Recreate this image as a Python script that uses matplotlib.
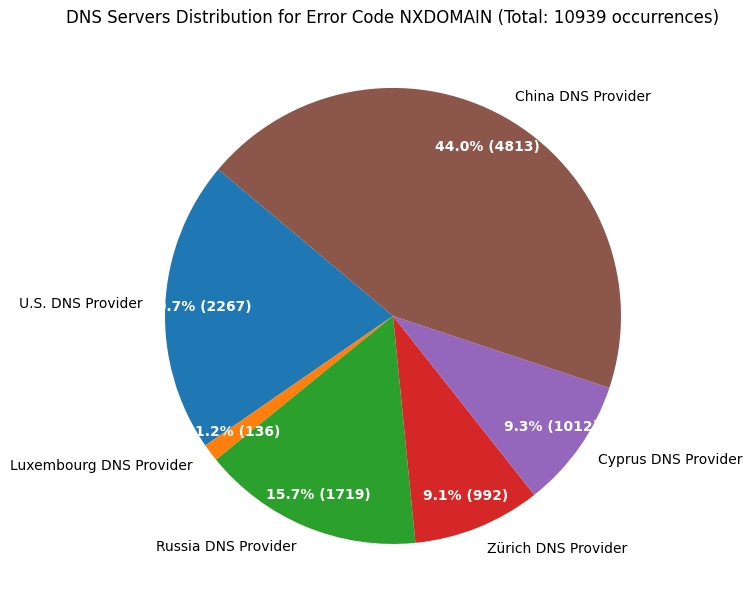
import matplotlib
matplotlib.use("Agg")
import matplotlib.pyplot as plt

# Data
providers = ["U.S. DNS Provider", "Luxembourg DNS Provider", "Russia DNS Provider",
             "Zürich DNS Provider", "Cyprus DNS Provider", "China DNS Provider"]
counts = [2267, 136, 1719, 992, 1012, 4813]
error_code = "NXDOMAIN"

total = sum(counts)


def fmt(pct):
    # percentage plus absolute count
    return "{:.1f}% ({:d})".format(pct, int(round(pct * total / 100.0)))


fig = plt.figure(figsize=(7.52, 6.11), dpi=100)
ax = fig.add_axes([0.1436, 0.0164, 0.758, 0.933])

wedges, texts, autotexts = ax.pie(counts, labels=providers, autopct=fmt,
                                  startangle=140, pctdistance=0.85,
                                  textprops={"fontsize": 10})
for t in autotexts:
    t.set_color("white")
    t.set_fontweight("bold")

ax.set_title("DNS Servers Distribution for Error Code {} (Total: {} occurrences)".format(error_code, total),
             fontsize=12)
ax.set_xlim(-1.25, 1.25)
ax.set_ylim(-1.25, 1.25)

fig.savefig("out.png", dpi=100)
